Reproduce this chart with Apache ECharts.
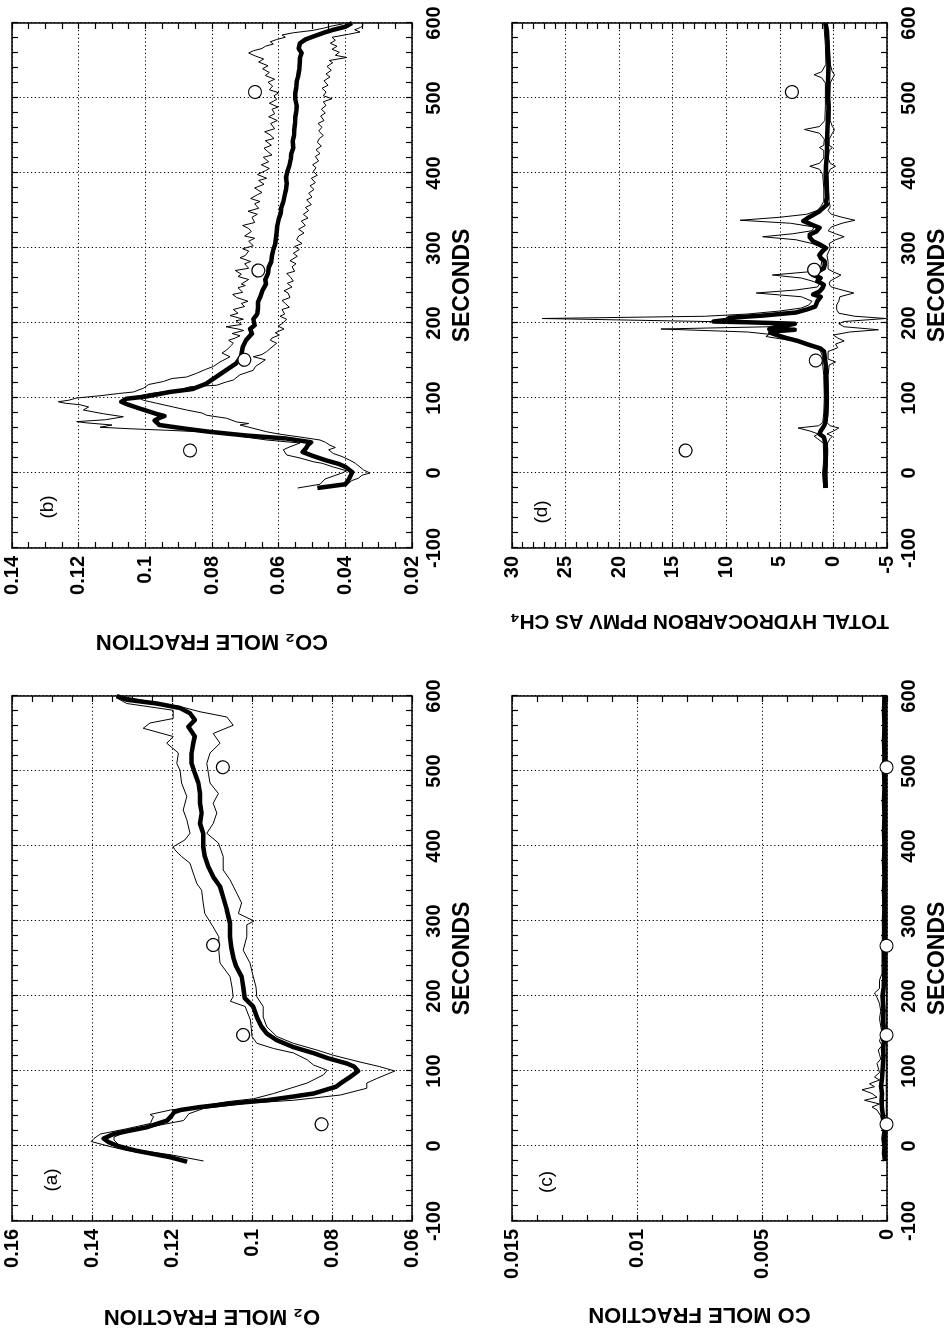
<!DOCTYPE html>
<html>
<head>
<meta charset="utf-8">
<script src="https://cdn.jsdelivr.net/npm/echarts@6/dist/echarts.min.js"></script>
<style>
html,body{margin:0;padding:0;width:950px;height:1331px;overflow:hidden;background:#fff;}
#chart{position:absolute;left:0;top:0;width:1331px;height:950px;transform-origin:0 0;transform:translate(0px,1331px) rotate(-90deg);}
</style>
</head>
<body>
<div id="chart"></div>
<script>
// ---------- DATA (time in seconds, value) ----------
const o2Mean = [[-21,0.1162],[-15,0.1204],[-6,0.1292],[0,0.1335],[5,0.1358],[10,0.1371],[16,0.1346],[20,0.1310],[25,0.1263],[30,0.1235],[34,0.1212],[38,0.1205],[41,0.1200],[45,0.1195],[48,0.1179],[52,0.1129],[57,0.1046],[61,0.0963],[66,0.0896],[70,0.0846],[79,0.0790],[86,0.0772],[93,0.0752],[100,0.0735],[106,0.0745],[110,0.0763],[117,0.0810],[124,0.0847],[132,0.0897],[141,0.0938],[150,0.0963],[159,0.0976],[172,0.0988],[186,0.0997],[197,0.1018],[212,0.1022],[226,0.1026],[240,0.1040],[252,0.1047],[265,0.1052],[279,0.1055],[297,0.1055],[315,0.1063],[332,0.1072],[346,0.1080],[359,0.1097],[372,0.1109],[386,0.1118],[399,0.1122],[417,0.1122],[430,0.1130],[444,0.1126],[457,0.1130],[470,0.1130],[484,0.1134],[497,0.1143],[510,0.1151],[524,0.1151],[537,0.1147],[546,0.1143],[559,0.1159],[568,0.1143],[577,0.1155],[584,0.1180],[590,0.1238],[595,0.1313],[600,0.1338]];
const o2Upper = [[-19,0.1180],[-12,0.1240],[-6,0.1313],[0,0.1360],[6,0.1402],[10,0.1395],[16,0.1379],[23,0.1313],[30,0.1254],[35,0.1250],[39,0.1246],[42,0.1255],[48,0.1204],[53,0.1129],[59,0.1063],[63,0.0996],[70,0.0946],[77,0.0904],[84,0.0862],[95,0.0821],[101,0.0812],[108,0.0846],[115,0.0862],[124,0.0896],[130,0.0946],[137,0.0988],[146,0.1000],[158,0.1002],[168,0.1004],[186,0.1017],[193,0.1054],[199,0.1047],[212,0.1050],[226,0.1055],[244,0.1080],[261,0.1083],[279,0.1083],[292,0.1097],[310,0.1118],[324,0.1122],[341,0.1126],[350,0.1138],[364,0.1147],[377,0.1155],[386,0.1176],[395,0.1193],[399,0.1197],[408,0.1168],[417,0.1155],[435,0.1163],[448,0.1172],[466,0.1163],[484,0.1176],[501,0.1180],[510,0.1188],[524,0.1184],[537,0.1213],[546,0.1197],[557,0.1272],[564,0.1255],[570,0.1197],[581,0.1197],[590,0.1313],[598,0.1340]];
const o2Lower = [[-20,0.1121],[-12,0.1200],[-5,0.1290],[0,0.1330],[8,0.1345],[12,0.1345],[19,0.1313],[28,0.1229],[34,0.1171],[38,0.1165],[43,0.1158],[50,0.1121],[57,0.1013],[61,0.0896],[68,0.0779],[77,0.0713],[84,0.0713],[90,0.0688],[100,0.0643],[106,0.0682],[112,0.0730],[121,0.0797],[128,0.0838],[137,0.0897],[146,0.0938],[159,0.0963],[172,0.0972],[186,0.0972],[199,0.0988],[212,0.0990],[226,0.0997],[244,0.1005],[261,0.1022],[279,0.1013],[295,0.1013],[300,0.0995],[310,0.1034],[324,0.1026],[337,0.1038],[355,0.1055],[368,0.1072],[386,0.1072],[404,0.1084],[417,0.1113],[430,0.1097],[444,0.1088],[457,0.1097],[470,0.1084],[484,0.1105],[497,0.1109],[510,0.1113],[524,0.1105],[537,0.1080],[550,0.1097],[561,0.1047],[572,0.1063],[579,0.1130],[586,0.1180],[592,0.1250],[599,0.1320]];
const o2Circles = [[29,0.0826],[148,0.1022],[268,0.1097],[505,0.1073]];

const co2Mean = [[-20,0.0484],[-15,0.0400],[-8,0.0389],[1,0.0379],[8,0.0399],[12,0.0419],[17,0.0459],[23,0.0499],[28,0.0528],[33,0.0518],[37,0.0513],[41,0.0503],[46,0.0578],[50,0.0698],[55,0.0808],[59,0.0878],[64,0.0958],[70,0.0972],[73,0.0960],[76,0.0943],[79,0.0968],[86,0.1017],[92,0.1057],[95,0.1072],[99,0.1057],[102,0.0997],[108,0.0927],[112,0.0858],[119,0.0818],[128,0.0788],[137,0.0758],[146,0.0728],[155,0.0713],[168,0.0708],[177,0.0698],[186,0.0680],[192,0.0686],[197,0.0672],[205,0.0676],[212,0.0664],[220,0.0662],[228,0.0662],[236,0.0654],[244,0.0648],[252,0.0638],[258,0.0640],[266,0.0632],[274,0.0630],[282,0.0622],[290,0.0620],[298,0.0616],[306,0.0610],[314,0.0608],[322,0.0606],[330,0.0604],[338,0.0600],[346,0.0594],[354,0.0592],[362,0.0586],[370,0.0582],[378,0.0578],[386,0.0576],[394,0.0578],[402,0.0574],[410,0.0568],[418,0.0564],[426,0.0562],[434,0.0556],[442,0.0558],[450,0.0554],[458,0.0553],[466,0.0551],[474,0.0550],[482,0.0547],[490,0.0546],[498,0.0550],[506,0.0550],[514,0.0547],[522,0.0546],[530,0.0541],[538,0.0538],[546,0.0537],[554,0.0536],[560,0.0531],[566,0.0540],[573,0.0536],[578,0.0520],[582,0.0496],[587,0.0465],[591,0.0436],[595,0.0400],[600,0.0380]];
const co2Upper = [[-20,0.0543],[-15,0.0476],[-8,0.0461],[0,0.0410],[3,0.0396],[8,0.0436],[13,0.0470],[15,0.0496],[20,0.0536],[24,0.0576],[31,0.0586],[35,0.0566],[40,0.0536],[44,0.0636],[48,0.0700],[51,0.0736],[55,0.0836],[57,0.0936],[59,0.1046],[61,0.1136],[64,0.1100],[67,0.1180],[68.5,0.1206],[71,0.1120],[75,0.1066],[79,0.1126],[84,0.1186],[88,0.1170],[91,0.1196],[93,0.1240],[95,0.1261],[97,0.1230],[100,0.1206],[103,0.1136],[106,0.1080],[108,0.1036],[113,0.1006],[118,0.0990],[122,0.0946],[126,0.0920],[128,0.0876],[133,0.0846],[138,0.0820],[142,0.0796],[148,0.0776],[155,0.0746],[160,0.0770],[164,0.0756],[169,0.0745],[173,0.0736],[177,0.0750],[180,0.0730],[183,0.0716],[186,0.0740],[190,0.0705],[192,0.0722],[195,0.0758],[198,0.0712],[203,0.0728],[205,0.0706],[210,0.0746],[213,0.0722],[218,0.0736],[222,0.0702],[226,0.0712],[229,0.0692],[234,0.0726],[238,0.0738],[241,0.0708],[247,0.0722],[250,0.0700],[252,0.0712],[258,0.0690],[262,0.0722],[265,0.0712],[270,0.0730],[273,0.0690],[279,0.0702],[282,0.0684],[287,0.0716],[290,0.0700],[296,0.0690],[299,0.0708],[303,0.0676],[309,0.0690],[313,0.0672],[316,0.0702],[322,0.0682],[326,0.0690],[330,0.0708],[334,0.0672],[341,0.0680],[345,0.0664],[349,0.0692],[353,0.0660],[359,0.0672],[362,0.0656],[366,0.0684],[371,0.0664],[374,0.0650],[380,0.0672],[385,0.0644],[390,0.0660],[393,0.0636],[398,0.0664],[403,0.0640],[406,0.0628],[411,0.0652],[415,0.0630],[421,0.0646],[424,0.0620],[429,0.0634],[433,0.0644],[437,0.0622],[443,0.0640],[446,0.0614],[451,0.0626],[455,0.0642],[459,0.0612],[466,0.0624],[470,0.0604],[475,0.0630],[479,0.0612],[485,0.0620],[488,0.0602],[493,0.0628],[498,0.0606],[503,0.0614],[507,0.0600],[511,0.0628],[516,0.0618],[521,0.0632],[525,0.0612],[530,0.0640],[534,0.0628],[539,0.0648],[543,0.0632],[548,0.0660],[552,0.0645],[556,0.0670],[560,0.0690],[563,0.0676],[566,0.0650],[569,0.0640],[572,0.0616],[575,0.0625],[578,0.0606],[581,0.0580],[584,0.0590],[587,0.0556],[590,0.0500],[593,0.0466],[596,0.0440],[599,0.0406]];
const co2Lower = [[-20,0.0480],[-16,0.0396],[-10,0.0380],[-7,0.0361],[-3,0.0350],[0,0.0326],[4,0.0345],[8,0.0356],[13,0.0370],[17,0.0386],[22,0.0410],[26,0.0436],[31,0.0450],[34,0.0430],[37,0.0446],[41,0.0460],[44,0.0476],[48,0.0536],[52,0.0600],[55,0.0636],[60,0.0680],[64,0.0716],[66,0.0690],[68,0.0726],[73,0.0756],[77,0.0816],[80,0.0830],[84,0.0876],[88,0.0916],[93,0.0966],[97,0.1006],[102,0.1026],[106,0.0986],[111,0.0896],[115,0.0866],[117,0.0786],[121,0.0760],[124,0.0736],[131,0.0716],[137,0.0676],[142,0.0670],[146,0.0656],[151,0.0640],[155,0.0676],[158,0.0650],[162,0.0636],[168,0.0620],[173,0.0606],[177,0.0625],[180,0.0620],[184,0.0598],[187,0.0610],[192,0.0584],[196,0.0602],[199,0.0590],[205,0.0576],[209,0.0596],[212,0.0582],[218,0.0590],[221,0.0568],[226,0.0580],[230,0.0590],[234,0.0566],[240,0.0572],[243,0.0584],[248,0.0560],[253,0.0574],[256,0.0556],[262,0.0566],[266,0.0576],[269,0.0552],[275,0.0560],[279,0.0548],[283,0.0566],[289,0.0544],[293,0.0556],[298,0.0538],[302,0.0552],[306,0.0530],[311,0.0546],[316,0.0540],[320,0.0524],[325,0.0540],[330,0.0520],[336,0.0532],[340,0.0512],[345,0.0526],[350,0.0510],[354,0.0520],[358,0.0502],[364,0.0516],[368,0.0500],[373,0.0510],[378,0.0494],[383,0.0506],[387,0.0490],[393,0.0502],[397,0.0484],[402,0.0496],[407,0.0488],[411,0.0498],[416,0.0480],[422,0.0490],[426,0.0476],[431,0.0488],[436,0.0472],[441,0.0484],[446,0.0478],[450,0.0466],[456,0.0480],[461,0.0470],[466,0.0482],[470,0.0464],[476,0.0474],[480,0.0460],[485,0.0472],[490,0.0458],[495,0.0466],[499,0.0440],[503,0.0466],[508,0.0458],[513,0.0470],[517,0.0452],[523,0.0464],[528,0.0446],[532,0.0458],[537,0.0442],[542,0.0455],[547,0.0438],[550,0.0448],[554,0.0396],[557,0.0430],[561,0.0418],[565,0.0440],[569,0.0425],[573,0.0445],[577,0.0430],[581,0.0440],[585,0.0390],[588,0.0356],[591,0.0372],[594,0.0355],[597,0.0346]];
const co2Circles = [[30,0.0866],[151,0.0703],[270,0.0661],[508,0.0671]];

const coMean = [[-20,0.00008],[-10,0.00012],[0,0.0001],[10,0.00014],[20,0.0001],[30,0.00012],[40,0.00016],[50,0.0002],[60,0.00022],[70,0.0002],[80,0.00024],[90,0.0002],[100,0.00018],[110,0.00016],[120,0.00014],[130,0.00016],[140,0.00012],[150,0.00012],[160,0.00014],[170,0.00016],[180,0.00014],[190,0.00016],[200,0.00018],[210,0.00014],[220,0.00012],[240,0.0001],[260,0.00012],[280,0.0001],[300,0.00012],[320,0.0001],[340,0.00012],[360,0.0001],[380,0.00012],[400,0.0001],[420,0.00012],[440,0.0001],[460,0.00012],[480,0.0001],[500,0.00012],[520,0.0001],[540,0.00012],[560,0.0001],[580,0.00012],[600,0.0001]];
const coUpper = [[-20,0.00012],[0,0.0001],[20,0.00015],[40,0.00025],[48,0.0004],[52,0.0006],[56,0.0003],[61,0.0009],[65,0.0004],[70,0.0006],[75,0.0010],[79,0.0005],[83,0.0007],[88,0.0003],[92,0.0005],[98,0.0003],[104,0.00035],[110,0.0004],[116,0.00025],[122,0.0003],[128,0.00035],[134,0.0002],[140,0.0003],[150,0.0002],[160,0.00025],[170,0.0003],[180,0.00025],[190,0.0003],[198,0.0004],[204,0.0005],[210,0.0003],[221,0.0003],[230,0.0002],[250,0.0002],[300,0.00018],[350,0.00015],[400,0.00015],[450,0.00015],[500,0.00015],[550,0.00015],[600,0.00015]];
const coLower = [[-20,0.00003],[100,0.00003],[200,0.00003],[300,0.00003],[400,0.00003],[500,0.00003],[600,0.00003]];
const coCircles = [[29,0.00002],[148,0.00002],[267,0.00002],[505,0.00002]];

const thcMean = [[-20,0.73],[-10,0.78],[0,0.8],[10,0.75],[20,0.72],[30,0.7],[40,0.75],[48,0.9],[52,1.3],[56,1.2],[60,1.0],[65,0.8],[75,0.7],[90,0.65],[100,0.64],[115,0.68],[130,0.7],[144,0.72],[155,0.8],[162,0.87],[166,1.2],[171,2.3],[176,3.3],[180,4.4],[184,5.3],[187,5.9],[189,5.5],[191,3.6],[192,6.0],[195,5.0],[199,3.6],[201,8.1],[202,11.2],[204,10.0],[207,9.7],[210,6.5],[214,3.5],[218,2.5],[222,1.7],[229,1.5],[235,1.2],[238,1.9],[242,1.3],[247,1.0],[251,0.9],[256,1.5],[260,1.2],[264,1.9],[269,1.4],[273,0.9],[278,0.8],[282,0.8],[287,1.2],[291,1.3],[296,1.0],[300,0.7],[305,1.3],[309,1.9],[314,2.2],[318,2.2],[322,1.6],[327,1.3],[331,2.0],[336,2.8],[340,2.4],[344,1.9],[349,1.3],[353,1.0],[358,0.6],[362,0.7],[367,0.6],[380,0.65],[398,0.72],[410,0.7],[425,0.6],[442,0.6],[460,0.55],[487,0.47],[500,0.5],[520,0.5],[544,0.45],[560,0.5],[575,0.55],[589,0.6],[600,0.73]];
const thcUpper = [[-20,0.9],[0,1.0],[20,0.9],[40,0.95],[46,1.5],[49,1.8],[52,1.4],[56,2.2],[60,3.3],[63,1.4],[67,1.0],[80,0.9],[100,0.85],[130,0.9],[144,1.0],[155,1.0],[162,1.2],[167,1.5],[172,2.5],[176,3.6],[179,5.0],[182,6.3],[185,6.0],[188,8.0],[192,16.1],[195,6.0],[198,5.0],[201,8.0],[206,27.2],[209,12.0],[212,8.0],[216,5.0],[220,3.0],[224,2.3],[229,2.0],[235,3.0],[240,7.2],[244,3.5],[248,1.5],[252,1.3],[256,2.0],[260,3.0],[264,5.7],[268,2.5],[272,1.2],[282,1.1],[290,1.5],[300,1.0],[306,2.0],[311,3.5],[315,6.6],[319,3.8],[323,2.0],[328,1.8],[333,4.0],[337,8.7],[341,5.0],[345,2.5],[350,1.5],[355,1.2],[362,0.9],[380,0.9],[398,1.0],[405,1.3],[409,2.2],[413,1.3],[420,0.9],[430,0.9],[434,1.3],[437,0.9],[445,0.85],[453,1.3],[458,2.7],[462,1.3],[470,0.8],[490,0.75],[500,0.75],[520,0.75],[527,1.1],[531,1.8],[535,1.1],[545,0.7],[570,0.75],[600,0.9]];
const thcLower = [[-20,0.55],[0,0.6],[20,0.55],[40,0.55],[46,0.3],[49,0.1],[52,0.6],[56,0.0],[60,-0.5],[63,0.3],[67,0.6],[80,0.5],[100,0.45],[130,0.5],[144,0.4],[148,-0.2],[152,0.5],[162,0.5],[167,-0.4],[172,-0.2],[176,-1.0],[180,-0.4],[184,0.0],[188,-1.5],[191,-4.2],[195,-1.0],[199,-0.5],[202,-1.0],[206,-4.9],[209,-2.0],[213,-0.5],[218,-0.3],[224,-0.3],[229,-0.5],[235,-0.6],[240,-1.9],[244,-0.8],[248,0.2],[252,0.4],[256,0.3],[260,-0.2],[264,-0.7],[268,0.0],[272,0.5],[282,0.5],[290,0.6],[300,0.3],[306,0.4],[311,-0.2],[315,-1.0],[319,-0.2],[323,0.5],[328,0.2],[333,-0.8],[337,-2.0],[341,-0.8],[345,0.2],[350,0.5],[355,0.3],[362,0.4],[380,0.45],[398,0.5],[405,0.3],[409,-0.2],[413,0.3],[420,0.5],[430,0.4],[434,0.1],[437,0.4],[445,0.4],[453,0.1],[458,-0.1],[462,0.1],[470,0.3],[490,0.3],[500,0.35],[520,0.3],[527,0.05],[531,-0.1],[535,0.1],[545,0.3],[570,0.4],[600,0.6]];
const thcCircles = [[30,13.8],[150,1.65],[271,1.8],[508,3.87]];

// axis settings
const xRange = [-100, 600, 100];
const o2Axis = [0.06, 0.16, 0.02];
const co2Axis = [0.02, 0.14, 0.02];
const coAxis = [0, 0.015, 0.005];
const thcAxis = [-5, 30, 5];
const xTitle = 'SECONDS';
const yTitles = ['O₂ MOLE FRACTION', 'CO₂ MOLE FRACTION', 'CO MOLE FRACTION', 'TOTAL HYDROCARBON PPMV AS CH₄'];
const panelTags = ['(a)', '(b)', '(c)', '(d)'];

// ---------- LAYOUT ----------
const FONT = '"Liberation Sans", Arial, Helvetica, sans-serif';
const panels = [
  {grid:{left:110, top:12, width:525, height:400}, y:o2Axis, ySplit:4, gap:84, yFont:22, mean:o2Mean, upper:o2Upper, lower:o2Lower, circles:o2Circles, tagXY:[151,52]},
  {grid:{left:783, top:12, width:525, height:400}, y:co2Axis, ySplit:4, gap:82, yFont:22, mean:co2Mean, upper:co2Upper, lower:co2Lower, circles:co2Circles, tagXY:[824,48]},
  {grid:{left:110, top:512, width:525, height:380}, y:coAxis, ySplit:5, gap:82, yFont:22, mean:coMean, upper:coUpper, lower:coLower, circles:coCircles, tagXY:[149,547]},
  {grid:{left:783, top:512, width:525, height:380}, y:thcAxis, ySplit:5, gap:62, yFont:20.5, mean:thcMean, upper:thcUpper, lower:thcLower, circles:thcCircles, tagXY:[819,542]}
];

const black = '#000';
const tickCfg = {show:true, inside:true, length:6, lineStyle:{color:black, width:1.2}};
const minorCfg = (n) => ({show:true, splitNumber:n, length:6, lineStyle:{color:black, width:1.2}});
const lineCfg = {show:true, onZero:false, lineStyle:{color:black, width:1.5}};
const splitCfg = {show:true, lineStyle:{color:black, width:1, type:[1.2,2.6]}};

const grids = [], xAxes = [], yAxes = [], series = [], graphics = [];
panels.forEach((p, i) => {
  grids.push(Object.assign({containLabel:false}, p.grid));
  xAxes.push({type:'value', gridIndex:i, position:'bottom', min:xRange[0], max:xRange[1], interval:xRange[2],
    axisLine:lineCfg, axisTick:tickCfg, minorTick:minorCfg(5), splitLine:splitCfg,
    axisLabel:{color:black, fontSize:20, fontWeight:'bold', fontFamily:FONT, margin:12},
    name:xTitle, nameLocation:'middle', nameGap:39,
    nameTextStyle:{color:black, fontSize:23, fontWeight:'bold', fontFamily:FONT}});
  xAxes.push({type:'value', gridIndex:i, position:'top', min:xRange[0], max:xRange[1], interval:xRange[2],
    axisLine:lineCfg, axisTick:tickCfg, minorTick:minorCfg(5), splitLine:{show:false}, axisLabel:{show:false}});
  yAxes.push({type:'value', gridIndex:i, position:'left', min:p.y[0], max:p.y[1], interval:p.y[2],
    axisLine:lineCfg, axisTick:tickCfg, minorTick:minorCfg(p.ySplit), splitLine:splitCfg,
    axisLabel:{color:black, fontSize:20, fontWeight:'bold', fontFamily:FONT, margin:8},
    name:yTitles[i], nameLocation:'middle', nameGap:p.gap,
    nameTextStyle:{color:black, fontSize:p.yFont, fontWeight:'bold', fontFamily:FONT}});
  yAxes.push({type:'value', gridIndex:i, position:'right', min:p.y[0], max:p.y[1], interval:p.y[2],
    axisLine:lineCfg, axisTick:tickCfg, minorTick:minorCfg(p.ySplit), splitLine:{show:false}, axisLabel:{show:false}});

  const xi = i*2, yi = i*2;
  const thin = (d) => ({type:'line', xAxisIndex:xi, yAxisIndex:yi, data:d, showSymbol:false, symbol:'none',
    lineStyle:{color:black, width:1}, z:3, animation:false});
  series.push(thin(p.upper));
  series.push(thin(p.lower));
  series.push({type:'line', xAxisIndex:xi, yAxisIndex:yi, data:p.mean, showSymbol:false, symbol:'none',
    lineStyle:{color:black, width:4.5, join:'round'}, z:4, animation:false});
  series.push({type:'scatter', xAxisIndex:xi, yAxisIndex:yi, data:p.circles, symbol:'circle', symbolSize:13,
    itemStyle:{color:'#fff', borderColor:black, borderWidth:1.2, opacity:1}, z:5, clip:false, animation:false});
  graphics.push({type:'text', x:p.tagXY[0], y:p.tagXY[1], z:10,
    style:{text:panelTags[i], font:'19px ' + FONT, fill:black, align:'center', verticalAlign:'middle'}});
});

const chart = echarts.init(document.getElementById('chart'), null, {renderer:'canvas'});
chart.setOption({
  backgroundColor:'#fff',
  animation:false,
  grid:grids,
  xAxis:xAxes,
  yAxis:yAxes,
  series:series,
  graphic:graphics
});
</script>
</body>
</html>
